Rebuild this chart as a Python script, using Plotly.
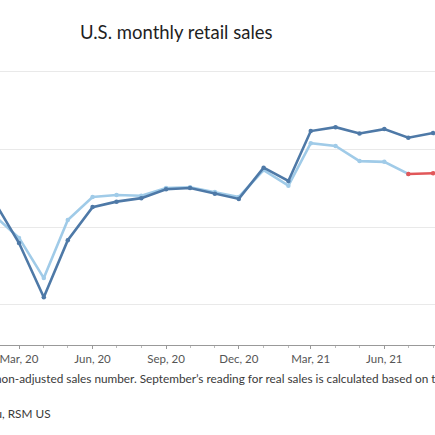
import plotly.graph_objects as go

months = ["2020-02-01", "2020-03-01", "2020-04-01", "2020-05-01", "2020-06-01", "2020-07-01",
          "2020-08-01", "2020-09-01", "2020-10-01", "2020-11-01", "2020-12-01", "2021-01-01",
          "2021-02-01", "2021-03-01", "2021-04-01", "2021-05-01", "2021-06-01", "2021-07-01",
          "2021-08-01"]

# Nominal retail sales ($ billions)
nominal = [529.5, 479.5, 410, 483, 525.5, 532.5, 537, 548.5, 550, 542.5, 536, 576, 559,
           623, 628, 620, 625.5, 614.5, 620.5]

# Real retail sales ($ billions), last reading estimated
real_months = months[:-1]
real = [513, 486, 434.5, 509, 538.5, 541, 540, 550, 551, 545, 538.5, 573, 553,
        607.5, 604, 584.5, 583.5, 568]
est_months = ["2021-07-01", "2021-08-01"]
est = [568, 569]

title_text = "U.S. monthly retail sales"
note_text = "non-adjusted sales number. September\u2019s reading for real sales is calculated based on the"
source_text = "Source: U.S. Census Bureau, RSM US"

DARK = "#4e79a7"
LIGHT = "#a0cbe8"
RED = "#e15759"

fig = go.Figure()
fig.add_trace(go.Scatter(x=real_months, y=real, mode="lines+markers",
                         line=dict(color=LIGHT, width=2.6),
                         marker=dict(color=LIGHT, size=4.5), name="Real"))
fig.add_trace(go.Scatter(x=est_months, y=est, mode="lines+markers",
                         line=dict(color=RED, width=2.6),
                         marker=dict(color=RED, size=4.5), name="Estimate"))
fig.add_trace(go.Scatter(x=months, y=nominal, mode="lines+markers",
                         line=dict(color=DARK, width=2.6),
                         marker=dict(color=DARK, size=4.5), name="Nominal"))

FONT = "Lato"
PH = 275  # plot height in px
fig.update_layout(
    width=435, height=435,
    margin=dict(l=0, r=0, t=70, b=90, pad=0),
    paper_bgcolor="white", plot_bgcolor="white",
    showlegend=False, hovermode=False,
    font=dict(family=FONT, color="#555555", size=11),
    xaxis=dict(
        type="date",
        range=["2020-02-06 05:00", "2021-08-03 10:00"],
        tick0="2020-03-01", dtick="M3", tickformat="%b, %y",
        ticks="outside", ticklen=3, tickcolor="#999999",
        showline=True, linecolor="#999999", linewidth=1,
        showgrid=False, zeroline=False, ticklabeloverflow="allow",
        tickfont=dict(family=FONT, size=11.5, color="#555555"),
        minor=dict(dtick="M1", tick0="2020-03-01", ticks="outside", ticklen=2,
                   tickcolor="#bbbbbb", showgrid=False),
    ),
    yaxis=dict(
        range=[348.7, 701.3], tick0=400, dtick=100,
        showgrid=True, gridcolor="#e9e9e9", gridwidth=1,
        showticklabels=False, ticks="", zeroline=False, showline=False,
    ),
    annotations=[
        dict(text=title_text, xref="paper", yref="paper", x=78 / 435, y=(345 - 32) / PH,
             xanchor="left", yanchor="middle", showarrow=False,
             font=dict(family=FONT, size=18.5, color="#1f1f1f")),
        dict(text=note_text, xref="paper", yref="paper", x=-7 / 435, y=(345 - 378) / PH,
             xanchor="left", yanchor="middle", showarrow=False,
             font=dict(family=FONT, size=11.8, color="#3a3a3a")),
        dict(text=source_text, xref="paper", yref="paper", x=53 / 435, y=(345 - 413) / PH,
             xanchor="right", yanchor="middle", showarrow=False,
             font=dict(family=FONT, size=11.8, color="#3a3a3a")),
    ],
)

fig.write_html("out.html", config={"displayModeBar": False},
               post_script="document.body.style.margin='0';document.body.style.overflow='hidden';")
